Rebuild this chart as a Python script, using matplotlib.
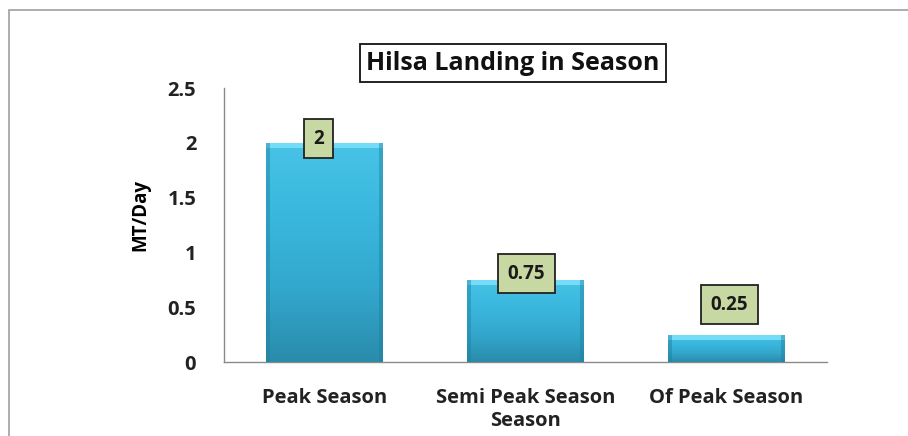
import matplotlib
matplotlib.use("Agg")
import matplotlib.pyplot as plt
import numpy as np
from matplotlib.patches import Rectangle
from matplotlib.colors import LinearSegmentedColormap

categories = ["Peak Season", "Semi Peak Season\nSeason", "Of Peak Season"]
values = [2, 0.75, 0.25]
value_labels = ["2", "0.75", "0.25"]
yticks = [0, 0.5, 1, 1.5, 2, 2.5]
ytick_labels = ["0", "0.5", "1", "1.5", "2", "2.5"]
title = "Hilsa Landing in Season"
ylabel = "MT/Day"

FONT = "Open Sans"
W, H = 908, 436
fig = plt.figure(figsize=(W / 100, H / 100), dpi=100)
fig.patch.set_facecolor("white")

# outer border
fig.add_artist(Rectangle((9 / W, -0.2), 1.2, 1.2 - 10 / H, transform=fig.transFigure,
                         fill=False, edgecolor="#a0a0a0", linewidth=1.2))

ax = fig.add_axes([224 / W, 1 - 362 / H, (827 - 224) / W, (362 - 88) / H])
x = np.arange(len(categories))
bars = ax.bar(x, values, width=0.58, color="#35aed3", edgecolor="none", zorder=2)

cmap = LinearSegmentedColormap.from_list("g", ["#2a8cab", "#33a7cd", "#3ab7de", "#48c3e6"])
for b in bars:
    x0, w, h = b.get_x(), b.get_width(), b.get_height()
    grad = np.linspace(0, 1, 100).reshape(-1, 1)
    im = ax.imshow(grad, extent=[x0, x0 + w, 0, h], origin="lower", cmap=cmap,
                   aspect="auto", zorder=3)
    im.set_clip_path(b)
    # top bevel highlight
    bev = min(0.05, h * 0.3)
    ax.add_patch(Rectangle((x0, h - bev), w, bev,
                           facecolor="#74dcf7", edgecolor="none", zorder=4))
    # side shading
    ax.add_patch(Rectangle((x0, 0), w * 0.035, h, facecolor="#1f7f9c", alpha=0.45,
                           edgecolor="none", zorder=4))
    ax.add_patch(Rectangle((x0 + w * 0.965, 0), w * 0.035, h, facecolor="#1f7f9c", alpha=0.45,
                           edgecolor="none", zorder=4))

label_offsets = [(-6, 4), (1, 6), (3, 30)]
for xi, v, lab, off in zip(x, values, value_labels, label_offsets):
    ax.annotate(lab, (xi, v), xytext=off, textcoords="offset pixels",
                ha="center", va="center", fontsize=13.5, fontweight="bold", family=FONT,
                color="#1a1a1a", zorder=6,
                bbox=dict(boxstyle="square,pad=0.5", facecolor="#c8d8a2",
                          edgecolor="#222222", linewidth=1.3))

ax.set_xlim(-0.5, 2.5)
ax.set_ylim(0, 2.5)
ax.set_yticks(yticks)
ax.set_yticklabels(ytick_labels, fontsize=14.5, fontweight="bold", family=FONT, color="#222222")
ax.set_xticks(x)
ax.set_xticklabels(categories, fontsize=14.5, fontweight="bold", family=FONT,
                   color="#222222", linespacing=1.2)
ax.tick_params(axis="both", length=0)
ax.tick_params(axis="y", pad=20)
ax.tick_params(axis="x", pad=19)
for s in ["top", "right"]:
    ax.spines[s].set_visible(False)
for s in ["left", "bottom"]:
    ax.spines[s].set_color("#8a8a8a")
    ax.spines[s].set_linewidth(1.0)

ax.set_ylabel(ylabel, fontsize=13.5, fontweight="bold", family=FONT)
ax.yaxis.set_label_coords((150 - 224) / (827 - 224), (362 - 215) / (362 - 88))

fig.text(513 / W, 1 - 63 / H, title, ha="center", va="center", fontsize=18,
         fontweight="bold", family=FONT, color="#111111",
         bbox=dict(boxstyle="square,pad=0.25", facecolor="white", edgecolor="#111111",
                   linewidth=1.3))

fig.savefig("out.png", dpi=100)
